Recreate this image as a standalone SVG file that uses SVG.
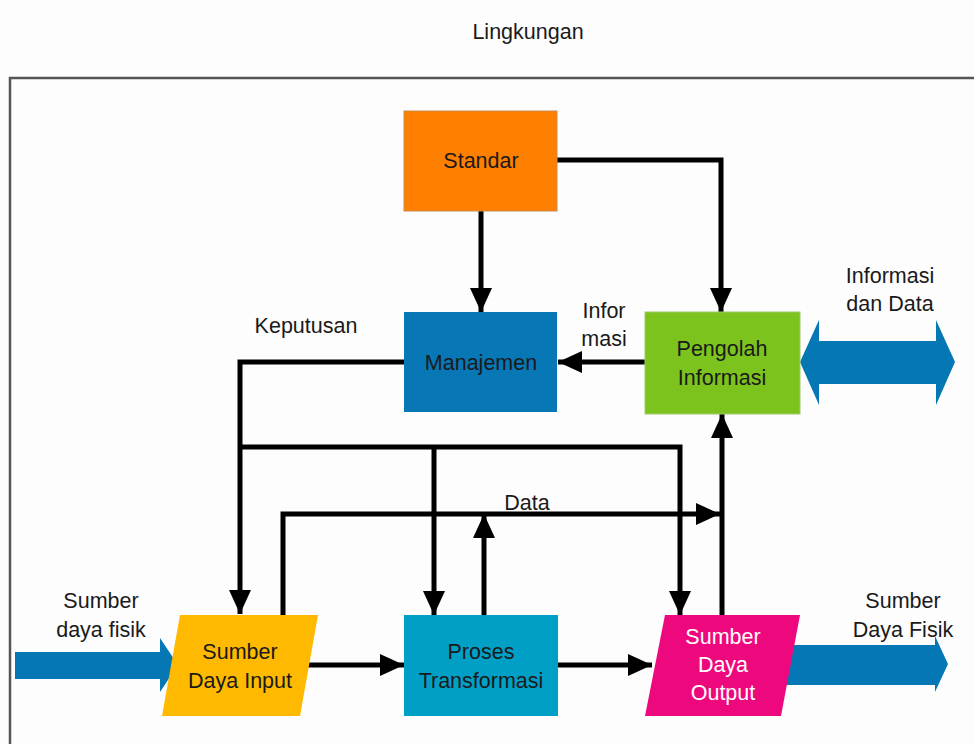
<svg xmlns="http://www.w3.org/2000/svg" width="974" height="744" viewBox="0 0 974 744">
<style>
text{font-family:"Liberation Sans",Arial,sans-serif;font-size:21.5px;fill:#1a1a1a;text-anchor:middle}
.w{fill:#ffffff}
.c{fill:none;stroke:#000;stroke-width:5;stroke-linejoin:miter}
.a{marker-end:url(#ah)}
.big{fill:#0677B5}
</style>
<defs>
<marker id="ah" markerUnits="userSpaceOnUse" markerWidth="26" markerHeight="24" refX="24" refY="11" orient="auto">
<path d="M0,0 L24,11 L0,22 z" fill="#000"/>
</marker>
</defs>
<rect width="974" height="744" fill="#fdfdfd"/>
<text x="528" y="39">Lingkungan</text>
<path d="M10,760 V78 H990" fill="none" stroke="#555" stroke-width="2.5"/>

<g id="connectors">
<path class="c a" d="M557,160 H721 V312"/>
<path class="c a" d="M481,211 V312"/>
<path class="c a" d="M645,362 H558"/>
<path class="c a" d="M404,362 H240 V614"/>
<path class="c a" d="M240,447 H680 V615"/>
<path class="c a" d="M434,447 V615"/>
<path class="c a" d="M283,616 V514 H720"/>
<path class="c a" d="M484,616 V514"/>
<path class="c a" d="M722,616 V414"/>
<path class="c a" d="M305,665 H404"/>
<path class="c a" d="M558,665 H652"/>
</g>

<g id="arrow-in">
<polygon class="big" points="15,652 160,652 160,638 178,665 160,692 160,679 15,679"/>
</g>
<g id="arrow-out">
<polygon class="big" points="785,645 935,645 935,636 948,664 935,692 935,685 785,685"/>
</g>
<g id="arrow-info">
<polygon class="big" points="800,362 819,320 819,341 936,341 936,320 955,362 936,405 936,384 819,384 819,405"/>
</g>

<g id="standar">
<rect x="404" y="111" width="153" height="100" fill="#FF8000" stroke="#c98a50" stroke-width="1"/>
<text x="481" y="168">Standar</text>
</g>
<g id="manajemen">
<rect x="404" y="312" width="153" height="100" fill="#0777B6"/>
<text x="481" y="370">Manajemen</text>
</g>
<g id="pengolah">
<rect x="645" y="312" width="155" height="102" fill="#7DC31E" stroke="#a0c870" stroke-width="1"/>
<text x="722" y="356">Pengolah</text>
<text x="722" y="385">Informasi</text>
</g>
<g id="input">
<polygon points="180,615 318,615 300,716 162,716" fill="#FFB900"/>
<text x="240" y="659">Sumber</text>
<text x="240" y="688">Daya Input</text>
</g>
<g id="proses">
<rect x="404" y="615" width="154" height="101" fill="#00A0C6"/>
<text x="481" y="659">Proses</text>
<text x="481" y="688">Transformasi</text>
</g>
<g id="output">
<polygon points="665,615 800,615 781,716 645,716" fill="#EE087E"/>
<text class="w" x="723" y="644">Sumber</text>
<text class="w" x="723" y="672">Daya</text>
<text class="w" x="723" y="700">Output</text>
</g>

<g id="labels">
<text x="306" y="333">Keputusan</text>
<text x="604" y="318">Infor</text>
<text x="604" y="346">masi</text>
<text x="890" y="283">Informasi</text>
<text x="890" y="311">dan Data</text>
<text x="527" y="510">Data</text>
<text x="101" y="608">Sumber</text>
<text x="101" y="637">daya fisik</text>
<text x="903" y="608">Sumber</text>
<text x="903" y="637">Daya Fisik</text>
</g>
</svg>
